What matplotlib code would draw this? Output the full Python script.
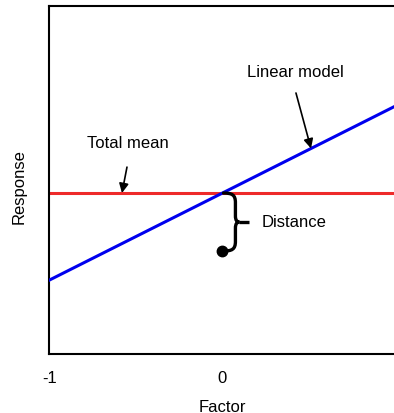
import matplotlib.pyplot as plt
import numpy as np
from matplotlib.path import Path
from matplotlib.patches import PathPatch

plt.rcParams['font.family'] = ['Liberation Sans', 'DejaVu Sans']
plt.rcParams['axes.unicode_minus'] = False

# model pieces
factor = [-1, 1]
total_mean = 0.0
slope = 0.5
obs_x = 0.0
obs_y = -1 / 3
xticks = [-1, 0]
xticklabels = ['-1', '0']

fig = plt.figure(figsize=(3.94, 4.13), dpi=100)
ax = fig.add_axes([0.1256, 0.1429, 0.878, 0.8426])

xs = np.array(factor, dtype=float)
ax.plot(xs, [total_mean, total_mean], color='#ee2a2a', lw=2.2, zorder=2)
ax.plot(xs, total_mean + slope * xs, color='#0000ee', lw=2.2, zorder=3)
ax.plot([obs_x], [obs_y], 'o', color='black', ms=7.5, zorder=4)

# curly brace between the observation and the mean
def brace(x0, ytop, ybot, w=0.075, tip=0.023, tick=0.058):
    ym = (ytop + ybot) / 2
    xb = x0 + w
    r = 0.055
    verts = [
        (x0 + 0.006, ytop),
        (x0 + 0.055, ytop), (xb, ytop - 0.01), (xb, ytop - r),
        (xb, ym + 0.035),
        (xb, ym + 0.01), (xb + tip * 0.4, ym), (xb + tip, ym),
        (xb + tip * 0.4, ym), (xb, ym - 0.01), (xb, ym - 0.035),
        (xb, ybot + r),
        (xb, ybot + 0.01), (x0 + 0.055, ybot), (x0 + 0.006, ybot),
    ]
    codes = [Path.MOVETO,
             Path.CURVE4, Path.CURVE4, Path.CURVE4,
             Path.LINETO,
             Path.CURVE4, Path.CURVE4, Path.CURVE4,
             Path.CURVE4, Path.CURVE4, Path.CURVE4,
             Path.LINETO,
             Path.CURVE4, Path.CURVE4, Path.CURVE4]
    ax.add_patch(PathPatch(Path(verts, codes), fill=False, lw=2.4,
                           edgecolor='black', zorder=5, capstyle='round'))
    ax.plot([xb + tip, xb + tip + tick], [ym, ym], color='black', lw=2.4,
            zorder=5, solid_capstyle='butt')

brace(obs_x, total_mean, obs_y)
ax.text(0.228, (total_mean + obs_y) / 2, 'Distance', fontsize=12,
        ha='left', va='center')

arrow = dict(arrowstyle='-|>', color='black', lw=1.2, mutation_scale=14,
             shrinkA=0, shrinkB=0)
ax.annotate('', xy=(-0.581, total_mean), xytext=(-0.552, 0.149),
            arrowprops=arrow)
ax.text(-0.546, 0.287, 'Total mean', fontsize=12, ha='center', va='center')

lm_x = 0.512
ax.annotate('', xy=(lm_x, total_mean + slope * lm_x), xytext=(0.425, 0.575),
            arrowprops=arrow)
ax.text(0.422, 0.695, 'Linear model', fontsize=12, ha='center', va='center')

ax.set_xlim(-1, 1)
ax.set_ylim(-0.925, 1.075)
ax.set_xticks(xticks)
ax.set_xticklabels(xticklabels, fontsize=12)
ax.set_yticks([])
ax.tick_params(axis='x', length=0, pad=12)
for s in ax.spines.values():
    s.set_linewidth(1.5)

ax.set_xlabel('Factor', fontsize=12, labelpad=10)
fig.text(19 / 394, 1 - 187 / 413, 'Response', fontsize=12, rotation=90,
         ha='center', va='center')

fig.savefig('out.png', dpi=100)
